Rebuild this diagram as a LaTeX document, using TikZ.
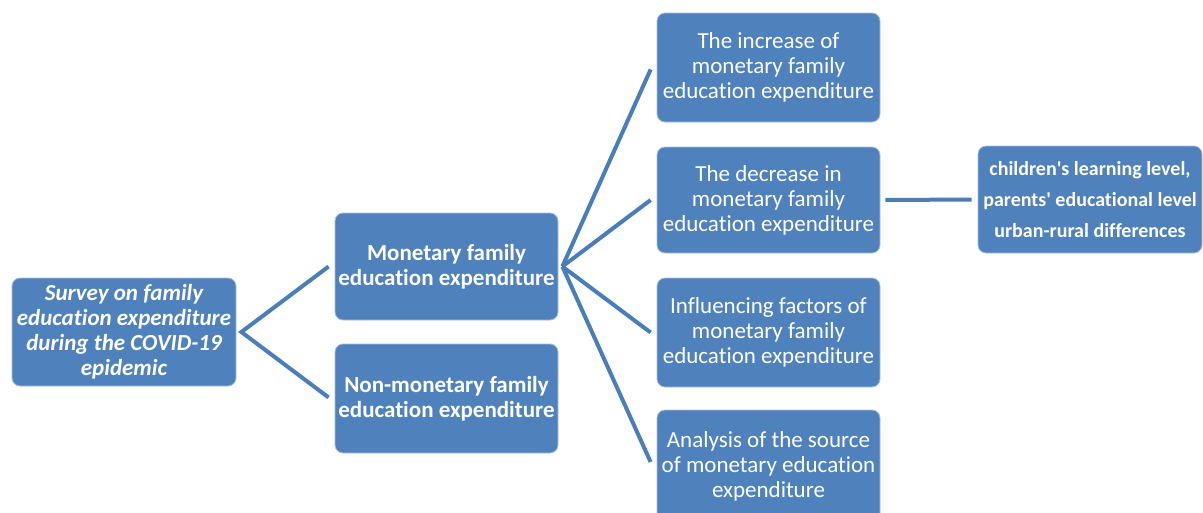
\documentclass[tikz,border=0pt]{standalone}
\usepackage{fontspec}
\setmainfont{Carlito}[Ligatures={NoCommon}]
\usetikzlibrary{calc}
\definecolor{boxblue}{HTML}{4F81BD}
\definecolor{edgeblue}{HTML}{A7BFDE}
\definecolor{linkblue}{HTML}{4A7EBB}
\tikzset{
  box/.style={rectangle, rounded corners=8pt, fill=boxblue, draw=edgeblue, line width=0.8pt,
    text=white, align=center, inner sep=1pt, font=\fontsize{23}{25}\selectfont},
  link/.style={draw=linkblue, line width=4pt}
}
\begin{document}
\begin{tikzpicture}[x=1pt, y=-1pt]
\useasboundingbox (0,0) rectangle (1203,512);
\clip (0,0) rectangle (1203,512);
\fill[white] (0,0) rectangle (1203,512);

% topic on the left
\node[box, minimum width=224pt, minimum height=108pt, font=\fontsize{23}{25}\selectfont\bfseries\itshape]
  (root) at (124,332) {Survey on family\\education expenditure\\during the COVID-19\\epidemic};

% two kinds of expenditure
\node[box, minimum width=223pt, minimum height=107pt, font=\fontsize{23}{25}\selectfont\bfseries]
  (mon) at (446.5,266.5) {Monetary family\\education expenditure};
\node[box, minimum width=223pt, minimum height=109pt, font=\fontsize{23}{25}\selectfont\bfseries]
  (nonmon) at (446.5,398.5) {Non-monetary family\\education expenditure};

% aspects of monetary expenditure
\node[box, minimum width=223pt, minimum height=109pt] (inc) at (768.5,67.5)
  {The increase of\\monetary family\\education expenditure};
\node[box, minimum width=223pt, minimum height=106pt] (dec) at (768.5,200)
  {The decrease in\\monetary family\\education expenditure};
\node[box, minimum width=223pt, minimum height=109pt] (infl) at (768.5,332.5)
  {Influencing factors of\\monetary family\\education expenditure};
\node[box, minimum width=223pt, minimum height=112pt] (src) at (768.5,466)
  {Analysis of the source\\of monetary education\\expenditure};

% factors of the decrease
\node[box, minimum width=224pt, minimum height=107pt, font=\fontsize{20}{31}\selectfont\bfseries]
  (fac) at (1090,199.5) {children\textquotesingle s learning level,\\parents\textquotesingle\ educational level\\urban-rural differences};

% fork points of the connectors
\coordinate (rootfork) at ($(root.east)+(5,0)$);
\coordinate (monfork) at ($(mon.east)+(4,0)$);

\draw[link, line join=miter] ($(mon.west)+(-6,0)$) -- (rootfork) -- ($(nonmon.west)+(-6,-1)$);
\draw[link] (monfork) -- ($(inc.west)+(-6,2)$);
\draw[link] (monfork) -- ($(dec.west)+(-6,0)$);
\draw[link] (monfork) -- ($(infl.west)+(-6,0)$);
\draw[link] (monfork) -- ($(src.west)+(-6,-4)$);
\draw[link] ($(dec.east)+(5,0)$) -- ($(fac.west)+(-6,0)$);
\end{tikzpicture}
\end{document}
